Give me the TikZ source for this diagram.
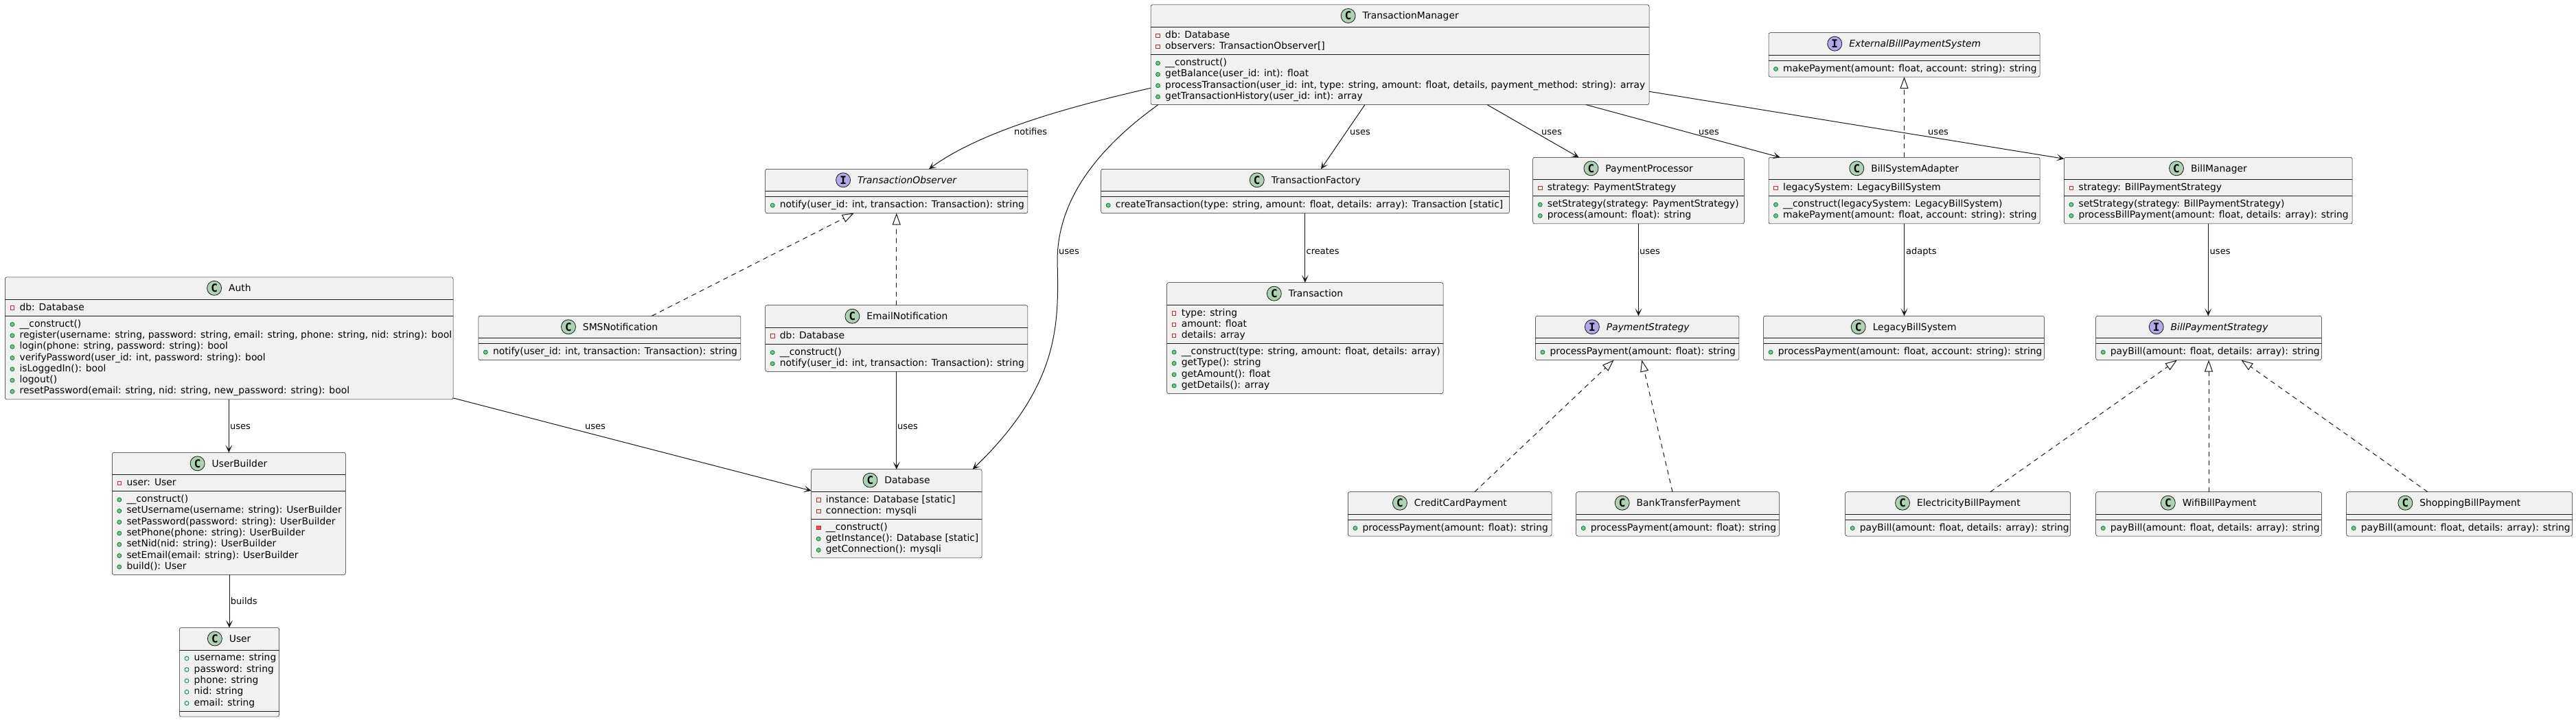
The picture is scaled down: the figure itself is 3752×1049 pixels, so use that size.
\documentclass[tikz,border=0pt]{standalone}
\usepackage{fontspec}
\setmainfont{DejaVu Sans}
\newfontfamily\iconfont{DejaVu Sans Mono}
\usetikzlibrary{arrows.meta,calc}
\definecolor{boxfill}{HTML}{F1F1F1}
\definecolor{lineclr}{HTML}{181818}
\definecolor{cgreen}{HTML}{ADD1B2}
\definecolor{ipurple}{HTML}{B4A7E5}
\definecolor{privred}{HTML}{C82930}
\definecolor{privfill}{HTML}{F24D5C}
\definecolor{pubgreen}{HTML}{038048}
\definecolor{pubfill}{HTML}{84BE84}
\tikzset{
 classbox/.style={draw=lineclr, line width=0.5pt, fill=boxfill, rounded corners=2.5pt, inner sep=0pt, outer sep=0pt},
 sepline/.style={draw=lineclr, line width=0.5pt},
 titletext/.style={inner sep=0pt, font=\fontsize{13.86}{16}\selectfont},
 memtext/.style={inner sep=0pt, font=\fontsize{13.86}{16}\selectfont},
 lbl/.style={inner sep=0pt, font=\fontsize{13}{15}\selectfont},
 Cicon/.style={circle, draw=lineclr, line width=0.8pt, fill=cgreen, minimum size=21pt, inner sep=0pt, font=\iconfont\bfseries\fontsize{16}{16}\selectfont},
 Iicon/.style={circle, draw=lineclr, line width=0.8pt, fill=ipurple, minimum size=21pt, inner sep=0pt, font=\iconfont\bfseries\fontsize{16}{16}\selectfont},
 visp/.style={rectangle, draw=privred, line width=0.8pt, minimum size=5.5pt, inner sep=0pt},
 visP/.style={rectangle, draw=privred, fill=privfill, line width=0.8pt, minimum size=5.5pt, inner sep=0pt},
 visu/.style={circle, draw=pubgreen, fill=pubfill, line width=0.8pt, minimum size=6pt, inner sep=0pt},
 viso/.style={circle, draw=pubgreen, line width=0.8pt, minimum size=6pt, inner sep=0pt},
 assoc/.style={draw=lineclr, line width=1pt, -{Stealth[length=11pt,width=10pt,inset=6pt]}},
 realize/.style={draw=lineclr, line width=1pt, dash pattern=on 7pt off 6pt, -{Triangle[open,length=17pt,width=12pt]}},
}
\newcount\memc
\newcommand\umlclass[8]{%
  \pgfmathsetmacro\UHb{#3+32.3}%
  \pgfmathsetmacro\UFb{\UHb+ifthenelse(#5==0,8,16.3*#5+7.7)}%
  \pgfmathsetmacro\UBb{\UFb+ifthenelse(#6==0,8,16.3*#6+7.7)}%
  \pgfmathsetmacro\UW{#4-#2}%
  \pgfmathsetmacro\UH{\UBb-#3}%
  \pgfmathsetmacro\UCx{(#2+#4)/2+15.65}%
  \pgfmathsetmacro\UTy{#3+21}%
  \xdef\UL{#2}\xdef\UFt{\UHb}\xdef\UMt{\UFb}%
  \node[classbox, minimum width=\UW pt, minimum height=\UH pt, anchor=north west] (#1) at (#2,#3) {};
  \draw[sepline] (#2,\UHb) -- (#4,\UHb);
  \draw[sepline] (#2,\UFb) -- (#4,\UFb);
  \node[titletext, anchor=base] (#1-t) at (\UCx,\UTy) {#8};
  \node[#7icon] (#1-i) at ($(#1-t.base west)+(-20.8,-5)$) {#7};
}
\newcommand\memline[2]{%
  \global\advance\memc by 1
  \pgfmathsetmacro\Ux{\UL+21}\pgfmathsetmacro\Uix{\UL+10.5}\pgfmathsetmacro\Uiy{\Uy-3.5}%
  \node[memtext, anchor=base west] (m\the\memc) at (\Ux,\Uy) {#2};
  \node[vis#1] (v\the\memc) at (\Uix,\Uiy) {};
}
\newcommand\fld[3]{\pgfmathsetmacro\Uy{\UFt+16+16.3*#2}\memline{#1}{#3}}
\newcommand\mth[3]{\pgfmathsetmacro\Uy{\UMt+16+16.3*#2}\memline{#1}{#3}}
\begin{document}
\begin{tikzpicture}[x=1pt,y=-1pt]
\useasboundingbox[fill=white] (0,0) rectangle (3752,1049);

\umlclass{TM}{1676}{7}{2402}{2}{4}{C}{TransactionManager}
\fld{p}{0}{db: Database}
\fld{p}{1}{observers: TransactionObserver[]}
\mth{u}{0}{\_\_construct()}
\mth{u}{1}{getBalance(user\_id: int): float}
\mth{u}{2}{processTransaction(user\_id: int, type: string, amount: float, details, payment\_method: string): array}
\mth{u}{3}{getTransactionHistory(user\_id: int): array}

\umlclass{Auth}{7.4}{403.8}{660}{1}{7}{C}{Auth}
\fld{p}{0}{db: Database}
\mth{u}{0}{\_\_construct()}
\mth{u}{1}{register(username: string, password: string, email: string, phone: string, nid: string): bool}
\mth{u}{2}{login(phone: string, password: string): bool}
\mth{u}{3}{verifyPassword(user\_id: int, password: string): bool}
\mth{u}{4}{isLoggedIn(): bool}
\mth{u}{5}{logout()}
\mth{u}{6}{resetPassword(email: string, nid: string, new\_password: string): bool}

\umlclass{UB}{163.3}{659.3}{503.3}{1}{7}{C}{UserBuilder}
\fld{p}{0}{user: User}
\mth{u}{0}{\_\_construct()}
\mth{u}{1}{setUsername(username: string): UserBuilder}
\mth{u}{2}{setPassword(password: string): UserBuilder}
\mth{u}{3}{setPhone(phone: string): UserBuilder}
\mth{u}{4}{setNid(nid: string): UserBuilder}
\mth{u}{5}{setEmail(email: string): UserBuilder}
\mth{u}{6}{build(): User}

\umlclass{User}{261.5}{914.5}{406.5}{5}{0}{C}{User}
\fld{o}{0}{username: string}
\fld{o}{1}{password: string}
\fld{o}{2}{phone: string}
\fld{o}{3}{nid: string}
\fld{o}{4}{email: string}

\umlclass{TO}{1114.7}{246.3}{1496.8}{0}{1}{I}{\textit{TransactionObserver}}
\mth{u}{0}{notify(user\_id: int, transaction: Transaction): string}

\umlclass{SMS}{696.8}{460.3}{1078.9}{0}{1}{C}{SMSNotification}
\mth{u}{0}{notify(user\_id: int, transaction: Transaction): string}

\umlclass{EN}{1114.7}{444.7}{1496.8}{1}{2}{C}{EmailNotification}
\fld{p}{0}{db: Database}
\mth{u}{0}{\_\_construct()}
\mth{u}{1}{notify(user\_id: int, transaction: Transaction): string}

\umlclass{DB}{1181.7}{683.7}{1430}{2}{3}{C}{Database}
\fld{p}{0}{instance: Database [static]}
\fld{p}{1}{connection: mysqli}
\mth{P}{0}{\_\_construct()}
\mth{u}{1}{getInstance(): Database [static]}
\mth{u}{2}{getConnection(): mysqli}

\umlclass{TF}{1603.7}{246.3}{2198.4}{0}{1}{C}{TransactionFactory}
\mth{u}{0}{createTransaction(type: string, amount: float, details: array): Transaction [static]}

\umlclass{TR}{1699.6}{411.7}{2102}{3}{4}{C}{Transaction}
\fld{p}{0}{type: string}
\fld{p}{1}{amount: float}
\fld{p}{2}{details: array}
\mth{u}{0}{\_\_construct(type: string, amount: float, details: array)}
\mth{u}{1}{getType(): string}
\mth{u}{2}{getAmount(): float}
\mth{u}{3}{getDetails(): array}

\umlclass{EBPS}{2576}{47.7}{2971}{0}{1}{I}{\textit{ExternalBillPaymentSystem}}
\mth{u}{0}{makePayment(amount: float, account: string): string}

\umlclass{PP}{2232.7}{229.3}{2540.3}{1}{2}{C}{PaymentProcessor}
\fld{p}{0}{strategy: PaymentStrategy}
\mth{u}{0}{setStrategy(strategy: PaymentStrategy)}
\mth{u}{1}{process(amount: float): string}

\umlclass{BSA}{2576}{229.3}{2971}{1}{2}{C}{BillSystemAdapter}
\fld{p}{0}{legacySystem: LegacyBillSystem}
\mth{u}{0}{\_\_construct(legacySystem: LegacyBillSystem)}
\mth{u}{1}{makePayment(amount: float, account: string): string}

\umlclass{BM}{3006.3}{229.3}{3426.2}{1}{2}{C}{BillManager}
\fld{p}{0}{strategy: BillPaymentStrategy}
\mth{u}{0}{setStrategy(strategy: BillPaymentStrategy)}
\mth{u}{1}{processBillPayment(amount: float, details: array): string}

\umlclass{PS}{2236.4}{460.3}{2532.9}{0}{1}{I}{\textit{PaymentStrategy}}
\mth{u}{0}{processPayment(amount: float): string}

\umlclass{LBS}{2568.6}{460.3}{2977.4}{0}{1}{C}{LegacyBillSystem}
\mth{u}{0}{processPayment(amount: float, account: string): string}

\umlclass{BPS}{3052.7}{460.3}{3381.3}{0}{1}{I}{\textit{BillPaymentStrategy}}
\mth{u}{0}{payBill(amount: float, details: array): string}

\umlclass{CCP}{1963.4}{716.7}{2260}{0}{1}{C}{CreditCardPayment}
\mth{u}{0}{processPayment(amount: float): string}

\umlclass{BTP}{2295.7}{716.7}{2591.6}{0}{1}{C}{BankTransferPayment}
\mth{u}{0}{processPayment(amount: float): string}

\umlclass{EBP}{2687.7}{716.7}{3015.7}{0}{1}{C}{ElectricityBillPayment}
\mth{u}{0}{payBill(amount: float, details: array): string}

\umlclass{WBP}{3052.7}{716.7}{3381.3}{0}{1}{C}{WifiBillPayment}
\mth{u}{0}{payBill(amount: float, details: array): string}

\umlclass{SBP}{3417.7}{716.7}{3746.5}{0}{1}{C}{ShoppingBillPayment}
\mth{u}{0}{payBill(amount: float, details: array): string}

% connectors
\draw[assoc] ([yshift=-121.3pt]TM.north west) .. controls (1560,155) and (1430,190) .. ([xshift=238.3pt]TO.north west);
\draw[assoc] ([xshift=11pt]TM.south west) .. controls (1600,215) and (1540,290) .. (1540,380) .. controls (1542,470) and (1545,560) .. ([xshift=235pt]DB.north west);
\draw[assoc] ([xshift=312pt]TM.south west) -- ([xshift=320.3pt]TF.north west);
\draw[assoc] ([xshift=490pt]TM.south west) -- ([xshift=66.8pt]PP.north west);
\draw[assoc] ([xshift=633.7pt]TM.south west) -- ([xshift=16.9pt]BSA.north west);
\draw[assoc] ([yshift=-126.3pt]TM.north east) -- ([yshift=-2pt]BM.north west);
\draw[assoc] (UB.north |- Auth.south) -- (UB.north);
\draw[assoc] ([yshift=2pt]Auth.south east) -- ([yshift=-31.3pt]DB.north west);
\draw[assoc] (User.north |- UB.south) -- (User.north);
\draw[assoc] (EN.south) -- (EN.south |- DB.north);
\draw[assoc] (TR.north |- TF.south) -- (TR.north);
\draw[assoc] (PP.south) -- (PP.south |- PS.north);
\draw[assoc] (BSA.south) -- (BSA.south |- LBS.north);
\draw[assoc] (BM.south) -- (BM.south |- BPS.north);
\draw[realize] ([xshift=252.6pt]SMS.north west) -- ([xshift=129pt]TO.south west);
\draw[realize] (EN.north) -- (TO.south);
\draw[realize] (BSA.north) -- (EBPS.south);
\draw[realize] ([xshift=184.3pt]CCP.north west) -- ([xshift=114.1pt]PS.south west);
\draw[realize] ([xshift=140.3pt]BTP.north west) -- ([xshift=154.9pt]PS.south west);
\draw[realize] ([xshift=211.1pt]EBP.north west) -- ([xshift=118.2pt]BPS.south west);
\draw[realize] (WBP.north) -- (BPS.south);
\draw[realize] ([xshift=118.3pt]SBP.north west) -- ([xshift=211.8pt]BPS.south west);

% labels
\node[lbl, anchor=base west] (l1) at (1477,196.7) {notifies};
\node[lbl, anchor=base west] (l2) at (1542,370) {uses};
\node[lbl, anchor=base west] (l3) at (1965.8,196.7) {uses};
\node[lbl, anchor=base west] (l4) at (2245,196.7) {uses};
\node[lbl, anchor=base west] (l5) at (2474,196.7) {uses};
\node[lbl, anchor=base west] (l6) at (2808,196.7) {uses};
\node[lbl, anchor=base west] (l7) at (335,625) {uses};
\node[lbl, anchor=base west] (l8) at (852,625) {uses};
\node[lbl, anchor=base west] (l9) at (335.7,880.5) {builds};
\node[lbl, anchor=base west] (l10) at (1307,625) {uses};
\node[lbl, anchor=base west] (l11) at (1902.4,370) {creates};
\node[lbl, anchor=base west] (l12) at (2388,370) {uses};
\node[lbl, anchor=base west] (l13) at (2776,370) {adapts};
\node[lbl, anchor=base west] (l14) at (3218.5,370) {uses};
\end{tikzpicture}
\end{document}
